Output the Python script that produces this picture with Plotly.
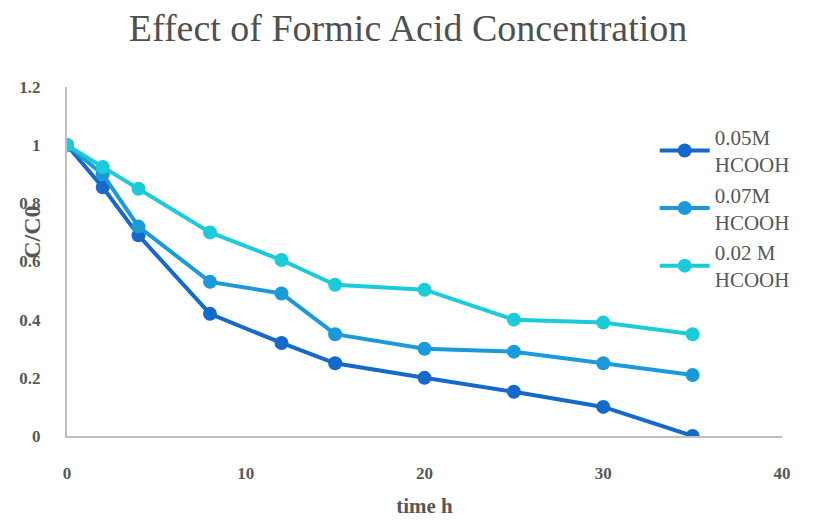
import plotly.graph_objects as go

time_h = [0, 2, 4, 8, 12, 15, 20, 25, 30, 35]
s_005 = [1.0, 0.855, 0.69, 0.42, 0.32, 0.25, 0.20, 0.152, 0.10, 0.0]
s_007 = [1.0, 0.90, 0.72, 0.53, 0.49, 0.35, 0.30, 0.29, 0.25, 0.21]
s_002 = [1.0, 0.925, 0.85, 0.70, 0.605, 0.52, 0.503, 0.40, 0.39, 0.35]
names = ["0.05M<br>HCOOH", "0.07M<br>HCOOH", "0.02 M<br>HCOOH"]
colors = ["#1469C9", "#1A9AD8", "#1BCBD9"]
x_ticks = [0, 10, 20, 30, 40]
x_tick_text = ["0", "10", "20", "30", "40"]
y_ticks = [0, 0.2, 0.4, 0.6, 0.8, 1, 1.2]
y_tick_text = ["0", "0.2", "0.4", "0.6", "0.8", "1", "1.2"]

serif = "Liberation Serif, DejaVu Serif, serif"
gray = "#575757"

fig = go.Figure()
for ys, nm, c in zip([s_005, s_007, s_002], names, colors):
    fig.add_trace(go.Scatter(
        x=time_h, y=ys, name=nm, mode="lines+markers",
        line=dict(color=c, width=4),
        marker=dict(color=c, size=14),
    ))

fig.update_layout(
    width=816, height=526,
    margin=dict(l=67, r=34, t=87, b=84),
    paper_bgcolor="white", plot_bgcolor="white",
    title=dict(text="Effect of Formic Acid Concentration", x=0.5, xanchor="center",
               y=0.948, yanchor="middle",
               font=dict(family=serif, size=38, color="#505050")),
    legend=dict(x=0.822, y=0.915, xanchor="left", yanchor="top",
                font=dict(family=serif, size=21, color=gray),
                bgcolor="rgba(0,0,0,0)", tracegroupgap=6,
                itemwidth=50),
    showlegend=True,
)
fig.update_xaxes(range=[0, 40], tickvals=x_ticks,
                 ticktext=["<b>%s</b>" % t for t in x_tick_text],
                 showgrid=False, zeroline=False,
                 showline=True, linecolor="#BFBFBF", linewidth=2,
                 ticks="", ticklabelstandoff=21,
                 tickfont=dict(family=serif, size=17, color=gray),
                 title=dict(text="<b>time h</b>", standoff=16,
                            font=dict(family=serif, size=21, color=gray)))
fig.update_yaxes(range=[0, 1.2], tickvals=y_ticks,
                 ticktext=["<b>%s</b>" % t for t in y_tick_text],
                 showgrid=False, zeroline=False,
                 showline=True, linecolor="#BFBFBF", linewidth=2,
                 ticks="", ticklabelstandoff=21,
                 tickfont=dict(family=serif, size=17, color=gray))
fig.add_annotation(text="<b>C/C0</b>", xref="paper", yref="paper", x=-0.07, y=0.585,
                   textangle=-90, showarrow=False,
                   font=dict(family=serif, size=24, color=gray))

fig.write_html("out.html")
